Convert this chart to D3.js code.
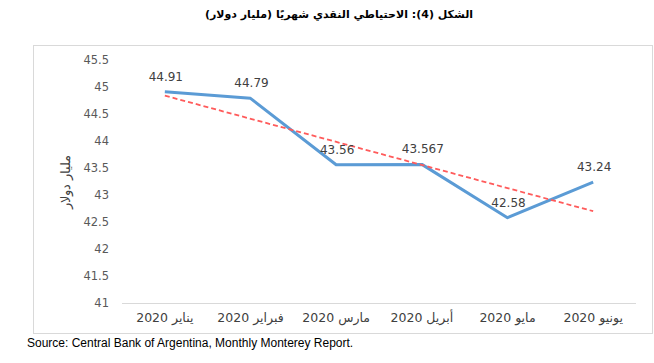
<!DOCTYPE html>
<html>
<head>
<meta charset="utf-8">
<script src="https://cdn.jsdelivr.net/npm/d3@7"></script>
<style>
  body { margin: 0; background: #fff; }
  svg { display: block; }
</style>
</head>
<body>
<div id="chart"></div>
<script>
// Monthly reserves, billions USD
const months = ["يناير 2020", "فبراير 2020", "مارس 2020", "أبريل 2020", "مايو 2020", "يونيو 2020"];
const reserves = [44.91, 44.79, 43.56, 43.567, 42.58, 43.24];
const valueLabels = ["44.91", "44.79", "43.56", "43.567", "42.58", "43.24"];
// linear trend, read at first and last month
const trendEnds = [44.84, 42.70];
const yTicks = [41, 41.5, 42, 42.5, 43, 43.5, 44, 44.5, 45, 45.5];

const title = "الشكل (4): الاحتياطي النقدي شهريًا (مليار دولار)";
const yTitle = "مليار دولار";
const source = "Source: Central Bank of Argentina, Monthly Monterey Report.";

const W = 654, H = 363;
const svg = d3.select("#chart").append("svg")
    .attr("width", W).attr("height", H);

// frame
svg.append("rect")
    .attr("x", 33.5).attr("y", 45.5)
    .attr("width", 619).attr("height", 288)
    .attr("fill", "none").attr("stroke", "#d9d9d9").attr("stroke-width", 1);

// title
svg.append("text")
    .attr("x", 339).attr("y", 18)
    .attr("text-anchor", "middle")
    .attr("direction", "rtl")
    .attr("font-family", "DejaVu Sans, sans-serif")
    .attr("font-weight", "bold")
    .attr("font-size", "11px")
    .attr("fill", "#000")
    .text(title);

const x = d3.scaleBand().domain(months).range([122, 636]);
const y = d3.scaleLinear().domain([41, 45.5]).range([303, 60]);
const cx = d => x(d) + x.bandwidth() / 2;

// y tick labels (no axis line)
svg.append("g").selectAll("text")
    .data(yTicks).enter()
    .append("text")
    .attr("x", 109).attr("y", d => y(d) + 4)
    .attr("text-anchor", "end")
    .attr("font-family", "DejaVu Sans, sans-serif")
    .attr("font-size", "11.5px")
    .attr("fill", "#595959")
    .text(d => d);

// x axis line
svg.append("line")
    .attr("x1", 122).attr("x2", 636)
    .attr("y1", y(41) + 0.5).attr("y2", y(41) + 0.5)
    .attr("stroke", "#d9d9d9").attr("stroke-width", 1);

// x labels
svg.append("g").selectAll("text")
    .data(months).enter()
    .append("text")
    .attr("x", d => cx(d)).attr("y", 322)
    .attr("text-anchor", "middle")
    .attr("direction", "rtl")
    .attr("font-family", "DejaVu Sans, sans-serif")
    .attr("font-size", "12.5px")
    .attr("fill", "#404040")
    .text(d => d);

// y title
svg.append("text")
    .attr("transform", "translate(70,182) rotate(-90)")
    .attr("text-anchor", "middle")
    .attr("direction", "rtl")
    .attr("font-family", "DejaVu Serif, serif")
    .attr("font-size", "13px")
    .attr("fill", "#404040")
    .text(yTitle);

// data line
const line = d3.line()
    .x((d, i) => cx(months[i]))
    .y(d => y(d));

svg.append("path")
    .datum(reserves)
    .attr("d", line)
    .attr("fill", "none")
    .attr("stroke", "#5b9bd5")
    .attr("stroke-width", 3)
    .attr("stroke-linejoin", "round");

// trend line
svg.append("line")
    .attr("x1", cx(months[0])).attr("y1", y(trendEnds[0]))
    .attr("x2", cx(months[months.length - 1])).attr("y2", y(trendEnds[1]))
    .attr("stroke", "#ff5b5b")
    .attr("stroke-width", 1.8)
    .attr("stroke-dasharray", "5,3");

// value labels
svg.append("g").selectAll("text")
    .data(reserves).enter()
    .append("text")
    .attr("x", (d, i) => cx(months[i]) + 1)
    .attr("y", d => y(d) - 11)
    .attr("text-anchor", "middle")
    .attr("font-family", "DejaVu Sans, sans-serif")
    .attr("font-size", "12px")
    .attr("fill", "#404040")
    .text((d, i) => valueLabels[i]);

// source
svg.append("text")
    .attr("x", 27).attr("y", 347)
    .attr("font-family", "Liberation Sans, Arial, sans-serif")
    .attr("font-size", "12px")
    .attr("fill", "#000")
    .text(source);
</script>
</body>
</html>
